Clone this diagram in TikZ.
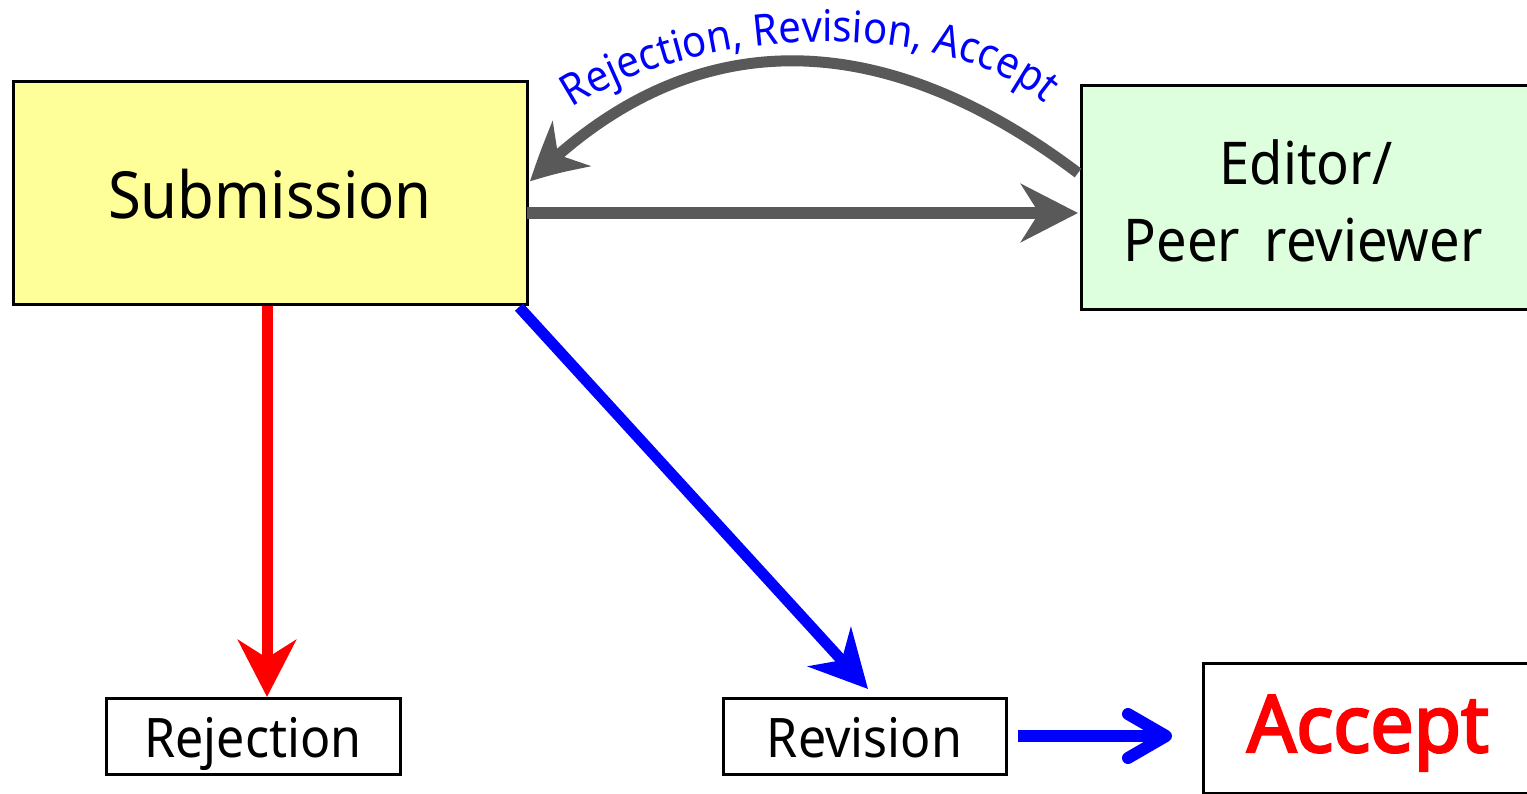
\documentclass[tikz,border=0pt]{standalone}
\usepackage{fontspec}
\usepackage{graphicx}
\setmainfont[FakeStretch=0.92,AutoFakeBold=3]{Noto Sans}
\usetikzlibrary{arrows.meta,bending,calc,decorations.text}
\definecolor{subfill}{HTML}{FFFF99}
\definecolor{edfill}{HTML}{DDFFDD}
\definecolor{arrgray}{HTML}{595959}
\begin{document}
\begin{tikzpicture}[x=1pt,y=-1pt,
  box/.style={draw=black, line width=3pt, rectangle, inner sep=0pt, outer sep=0pt, line join=miter},
  edtxt/.style={anchor=base, inner sep=0pt, font=\fontsize{59}{59}\selectfont},
  bigstealth/.style={-{Stealth[length=57pt,width=58pt,inset=18pt]}},
  grayarrow/.style={draw=arrgray, line width=12pt, bigstealth},
  grayarc/.style={draw=arrgray, line width=11pt, -{Stealth[length=57pt,width=58pt,inset=18pt,bend]}},
  redarrow/.style={draw=red, line width=11pt, bigstealth},
  bluearrow/.style={draw=blue, line width=11pt, bigstealth},
  barbarrow/.style={draw=blue, line width=12pt, -{Straight Barb[length=38pt,width=44pt,round]}},
]
\useasboundingbox (0,0) rectangle (1527,794);
\clip (0,0) rectangle (1527,794);

\node[box, fill=subfill, minimum width=514pt, minimum height=223pt,
      font=\fontsize{65}{65}\selectfont, text height=51pt, text depth=0pt] (sub) at (270,193.5) {Submission};
\node[box, fill=edfill, minimum width=449pt, minimum height=224pt] (ed) at (1305.5,198) {};
\node[edtxt] (edA) at (1306,185) {Editor/};
\node[edtxt] (edB) at (1303,262) {Peer\hspace{0.42em}reviewer};
\node[box, fill=white, minimum width=294pt, minimum height=76pt,
      font=\fontsize{54.5}{54.5}\selectfont, text height=42pt, text depth=0pt] (rej) at (253,736) {Rejection};
\node[box, fill=white, minimum width=283pt, minimum height=76pt,
      font=\fontsize{54.5}{54.5}\selectfont, text height=42pt, text depth=0pt] (rev) at (864.5,736) {Revision};
\node[box, fill=white, minimum width=330pt, minimum height=130pt, text=red,
      font=\fontsize{79}{79}\selectfont\bfseries, text height=48pt, text depth=0pt] (acc) at (1368,728) {\scalebox{1.06}[1]{Accept}};

\draw[grayarrow] ($(sub.east)+(0,19.5)$) -- ($(ed.west)+(-3,15)$);
\draw[grayarc] ($(ed.west)+(-3,-25)$) .. controls (881,24) and (690,20) .. ($(sub.east)+(3,-12)$);
{\fontsize{43.5}{43.5}\selectfont
\path[decorate, decoration={text along path, text align=center,
      text={|\color{blue}|Rejection, Revision, Accept}}]
      (545,128) .. controls (680,13) and (985,13) .. (1068,128);
}
\draw[redarrow] ($(sub.south)+(-3,1.5)$) -- ($(rej.north)+(14,-1)$);
\draw[bluearrow] ($(sub.south east)+(-8,2)$) -- ($(rev.north)+(3.5,-9)$);
\draw[barbarrow] ($(rev.east)+(12,0)$) -- ($(acc.west)+(-31,8)$);
\end{tikzpicture}
\end{document}
